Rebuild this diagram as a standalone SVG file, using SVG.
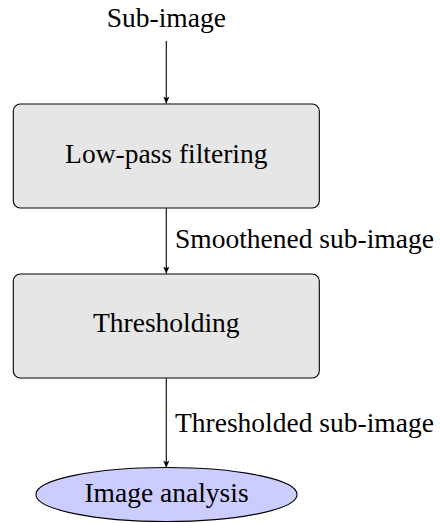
<svg xmlns="http://www.w3.org/2000/svg" width="440" height="523" viewBox="0 0 440 523">
  <style>
    text { font-family: 'Liberation Serif', 'DejaVu Serif', 'Noto Serif', serif; font-size: 27.5px; fill: #000; }
    .mid { text-anchor: middle; }
    .box { fill: #e6e6e6; stroke: #000; stroke-width: 1.1; }
    .term { fill: #ccccff; stroke: #000; stroke-width: 1.1; }
    .edge { stroke: #000; stroke-width: 1.1; fill: none; marker-end: url(#tip); }
  </style>
  <defs>
    <marker id="tip" viewBox="0 0 10 10" refX="10" refY="5" markerWidth="7" markerHeight="7" markerUnits="userSpaceOnUse" orient="auto">
      <path d="M0,0.5 L10,5 L0,9.5 L2.5,5 Z" fill="#000"/>
    </marker>
  </defs>

  <!-- input label -->
  <g id="input">
    <text class="mid" x="166.3" y="27">Sub-image</text>
  </g>

  <!-- processing stages -->
  <g id="lowpass">
    <rect class="box" x="13.3" y="104" width="306" height="104" rx="7" ry="7"/>
    <text class="mid" x="166.3" y="163">Low-pass filtering</text>
  </g>

  <g id="threshold">
    <rect class="box" x="13.3" y="274" width="306" height="104" rx="7" ry="7"/>
    <text class="mid" x="166.3" y="331.5">Thresholding</text>
  </g>

  <g id="analysis">
    <ellipse class="term" cx="166.5" cy="494.5" rx="130.5" ry="27"/>
    <text class="mid" x="166.5" y="502">Image analysis</text>
  </g>

  <!-- connectors -->
  <g id="connectors">
    <line class="edge" x1="166.3" y1="41" x2="166.3" y2="103.5"/>
    <line class="edge" x1="166.3" y1="208" x2="166.3" y2="273.5"/>
    <text x="175" y="248">Smoothened sub-image</text>
    <line class="edge" x1="166.3" y1="378" x2="166.3" y2="467.5"/>
    <text x="175" y="432">Thresholded sub-image</text>
  </g>
</svg>
